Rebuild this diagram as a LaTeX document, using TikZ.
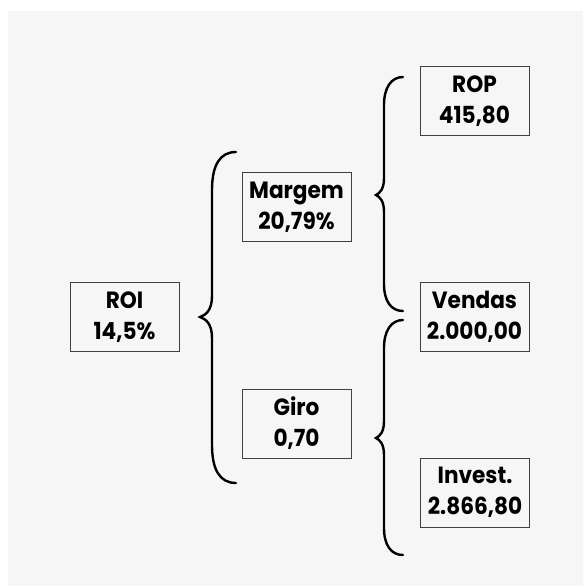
\documentclass[tikz,border=0pt]{standalone}
\usepackage{fontspec}
\setmainfont{Poppins}[FakeStretch=0.92]
\definecolor{fundo}{HTML}{F6F6F6}
\definecolor{borda}{HTML}{404040}
\begin{document}
\begin{tikzpicture}[x=1pt,y=-1pt,
      caixa/.style={draw=borda, line width=0.8pt, rectangle, minimum width=109pt,
        minimum height=69pt, inner sep=0pt, align=center,
        font=\fontsize{23.5}{31}\selectfont\bfseries},
      chave/.style={line width=2.4pt, line cap=round}]
    \useasboundingbox (0,0) rectangle (583,586);
    \fill[fundo] (8,11) rectangle (583,586);
    \node[caixa] at (124.5,317) (roi) {ROI\\14,5\%};
    \node[caixa] at (296.5,207) (margem) {Margem\\20,79\%};
    \node[caixa] at (296.5,423.5) (giro) {Giro\\0,70};
    \node[caixa] at (474.5,101) (rop) {ROP\\415,80};
    \node[caixa] at (474.5,317) (vendas) {Vendas\\2.000,00};
    \node[caixa] at (475,492.5) (invest) {Invest.\\2.866,80};
    % chaves
    \draw[chave] (236,152) .. controls (220,152) and (212,165) .. (212,190)
      -- (212,296) .. controls (212,310) and (206,315) .. (200,317)
      .. controls (206,319) and (212,324) .. (212,338)
      -- (212,445) .. controls (212,470) and (220,483) .. (236,483);
    \draw[chave] (403,77) .. controls (391,77) and (384,88) .. (384,105)
      -- (384,178) .. controls (384,189) and (380,193) .. (376,195)
      .. controls (380,197) and (384,201) .. (384,212)
      -- (384,284) .. controls (384,301) and (391,311) .. (403,311);
    \draw[chave] (403,320) .. controls (391,320) and (384,331) .. (384,348)
      -- (384,421) .. controls (384,432) and (380,436) .. (376,438)
      .. controls (380,440) and (384,444) .. (384,455)
      -- (384,528) .. controls (384,545) and (391,555) .. (403,555);
  \end{tikzpicture}
\end{document}
